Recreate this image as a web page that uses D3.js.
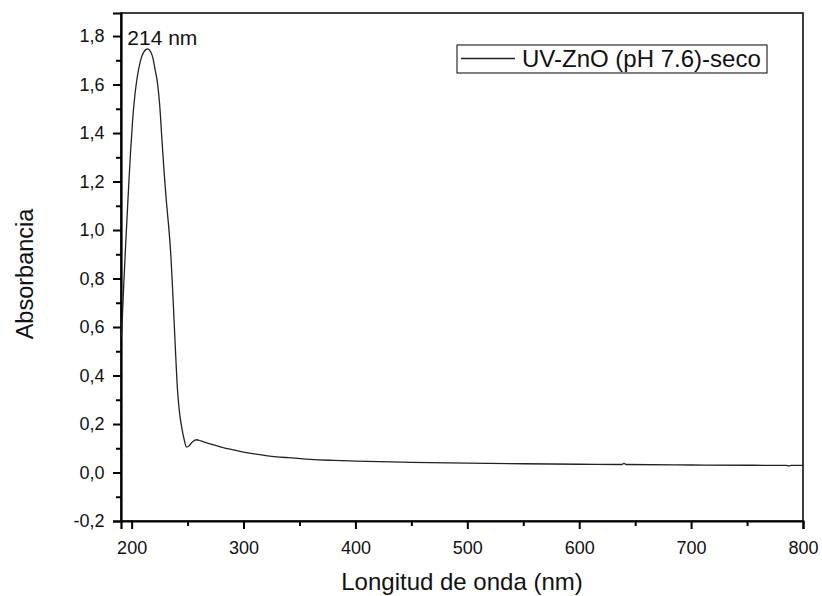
<!DOCTYPE html>
<html>
<head>
<meta charset="utf-8">
<script src="https://cdn.jsdelivr.net/npm/d3@7"></script>
<style>
  body { margin: 0; background: #fff; }
  text { font-family: Arial, "Liberation Sans", sans-serif; fill: #111; }
</style>
</head>
<body>
<div id="viz"></div>
<script>
(function () {
  // espectro UV-Vis
  var wavelength = [191, 193, 195, 197, 199, 201, 203, 205, 207, 209, 211, 213, 214, 215, 217, 219,
    221, 223, 225, 227, 229, 231, 233, 235, 237, 239, 241, 243, 245, 247, 249, 251, 254, 258,
    262, 270, 280, 290, 300, 320, 340, 360, 380, 400, 450, 500, 550, 600, 638, 640, 642, 700,
    750, 785, 787, 790, 800];
  var absorbance = [0.56, 0.78, 0.97, 1.15, 1.32, 1.46, 1.56, 1.63, 1.68, 1.715, 1.735, 1.745, 1.747, 1.746, 1.735, 1.71,
    1.66, 1.61, 1.52, 1.38, 1.24, 1.12, 1.02, 0.90, 0.72, 0.52, 0.34, 0.24, 0.18, 0.135, 0.105, 0.108, 0.125, 0.135,
    0.130, 0.118, 0.105, 0.094, 0.084, 0.070, 0.061, 0.054, 0.050, 0.047, 0.042, 0.039, 0.036, 0.034, 0.033, 0.038, 0.033, 0.031,
    0.030, 0.029, 0.027, 0.029, 0.029];

  var xTicks = [200, 300, 400, 500, 600, 700, 800];
  var xMinor = [250, 350, 450, 550, 650, 750];
  var yTicks = [-0.2, 0, 0.2, 0.4, 0.6, 0.8, 1.0, 1.2, 1.4, 1.6, 1.8];
  var yMinor = [-0.1, 0.1, 0.3, 0.5, 0.7, 0.9, 1.1, 1.3, 1.5, 1.7];

  var seriesName = 'UV-ZnO (pH 7.6)-seco';
  var peakLabel = '214 nm';

  var width = 822, height = 596;
  var margin = {left: 121, right: 19, top: 13, bottom: 75};
  var iw = width - margin.left - margin.right,
    ih = height - margin.top - margin.bottom;

  var svg = d3.select("#viz")
    .append("svg")
    .attr("width", width)
    .attr("height", height);

  var g = svg.append("g")
    .attr("transform", "translate(" + margin.left + "," + margin.top + ")");

  var x = d3.scaleLinear().domain([190.5, 800]).range([0, iw]);
  var y = d3.scaleLinear().domain([-0.2, 1.895]).range([ih, 0]);

  // coma decimal y guion normal
  var fmt = function(d){ return d.toFixed(1).replace('.', ','); };

  // marco (arriba y derecha)
  g.append("rect")
    .attr("width", iw).attr("height", ih)
    .attr("fill", "none").attr("stroke", "#000").attr("stroke-width", 1.5);

  // ejes
  var xAxis = g.append("g").attr("transform", "translate(0," + ih + ")")
    .call(d3.axisBottom(x).tickValues(xTicks).tickSize(8).tickFormat(d3.format("d")));
  g.append("g").attr("transform", "translate(0," + ih + ")")
    .call(d3.axisBottom(x).tickValues(xMinor).tickSize(5).tickFormat(""))
    .select(".domain").remove();
  var yAxis = g.append("g")
    .call(d3.axisLeft(y).tickValues(yTicks).tickSize(8).tickFormat(fmt));
  g.append("g")
    .call(d3.axisLeft(y).tickValues(yMinor).tickSize(5).tickFormat(""))
    .select(".domain").remove();

  g.selectAll(".domain").attr("stroke-width", 2.2).attr("stroke", "#000");
  g.selectAll(".tick line").attr("stroke-width", 2).attr("stroke", "#000");
  xAxis.selectAll(".tick text").attr("font-size", 18).attr("dy", "1.2em")
    .attr("font-family", "Arial, 'Liberation Sans', sans-serif").attr("fill", "#111");
  yAxis.selectAll(".tick text").attr("font-size", 18).attr("dx", "-0.3em")
    .attr("font-family", "Arial, 'Liberation Sans', sans-serif").attr("fill", "#111");

  // curva
  var data = wavelength.map(function(w, i){ return [w, absorbance[i]]; });
  var line = d3.line()
    .x(function(d){ return x(d[0]); })
    .y(function(d){ return y(d[1]); })
    .curve(d3.curveMonotoneX);

  g.append("path")
    .datum(data)
    .attr("fill", "none")
    .attr("stroke", "#222")
    .attr("stroke-width", 1.3)
    .attr("d", line);

  // etiqueta del pico
  g.append("text")
    .attr("x", x(214) - 20).attr("y", 32)
    .attr("font-size", 21)
    .text(peakLabel);

  // leyenda
  var leg = svg.append("g").attr("transform", "translate(457,45)");
  leg.append("rect").attr("width", 310).attr("height", 28)
    .attr("fill", "#fff").attr("stroke", "#000").attr("stroke-width", 1);
  leg.append("line").attr("x1", 4).attr("x2", 58).attr("y1", 13.5).attr("y2", 13.5)
    .attr("stroke", "#222").attr("stroke-width", 1.3);
  leg.append("text").attr("x", 65).attr("y", 22).attr("font-size", 24).text(seriesName);

  // titulos
  svg.append("text")
    .attr("x", 462).attr("y", 590)
    .attr("text-anchor", "middle").attr("font-size", 24)
    .text("Longitud de onda (nm)");
  svg.append("text")
    .attr("transform", "translate(33,274) rotate(-90)")
    .attr("text-anchor", "middle").attr("font-size", 23.5)
    .text("Absorbancia");
})();
</script>
</body>
</html>
